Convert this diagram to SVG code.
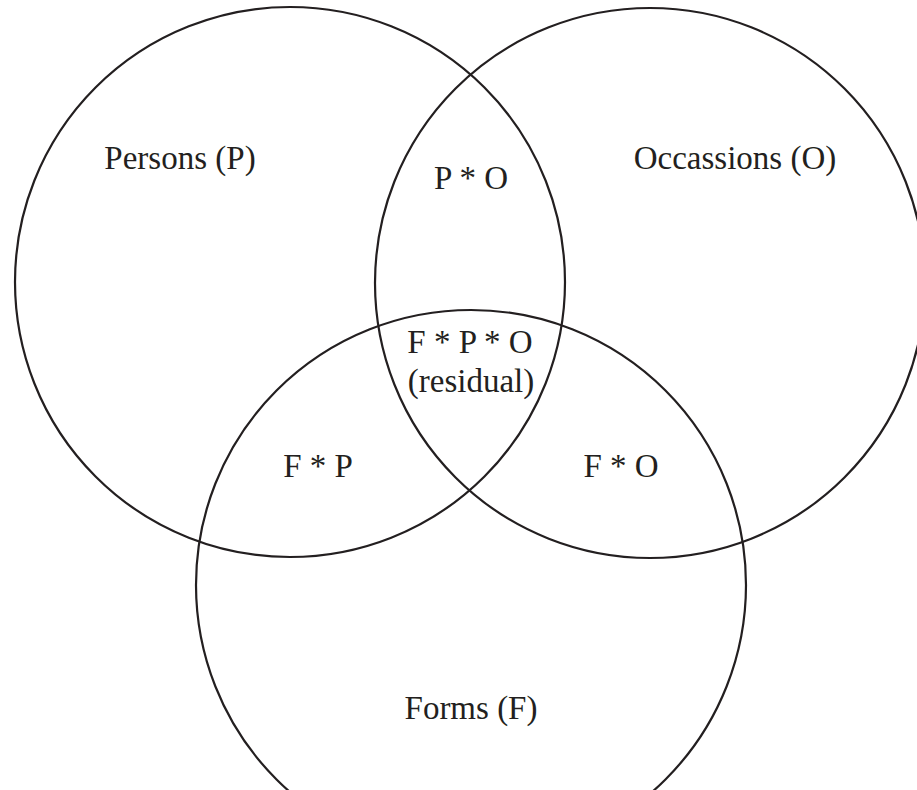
<svg xmlns="http://www.w3.org/2000/svg" width="917" height="790" viewBox="0 0 917 790">
<style>
.c{fill:none;stroke:#231f20;stroke-width:2.2}
.t{font-family:"Liberation Serif","Times New Roman",serif;font-size:33px;fill:#231f20;text-anchor:middle}
</style>
<rect width="917" height="790" fill="#fff"/>
<g id="persons"><circle class="c" cx="290" cy="282" r="275"/><text class="t" x="180" y="169">Persons (P)</text></g>
<g id="occasions"><circle class="c" cx="650" cy="283" r="275"/><text class="t" x="735" y="169">Occassions (O)</text></g>
<g id="forms"><circle class="c" cx="471" cy="585" r="275"/><text class="t" x="471" y="719">Forms (F)</text></g>
<g id="po"><text class="t" x="471" y="189">P * O</text></g>
<g id="fpo"><text class="t" x="470" y="353">F * P * O</text><text class="t" x="471" y="392">(residual)</text></g>
<g id="fp"><text class="t" x="318" y="477">F * P</text></g>
<g id="fo"><text class="t" x="621" y="477">F * O</text></g>
<g id="connectors"></g>
</svg>
